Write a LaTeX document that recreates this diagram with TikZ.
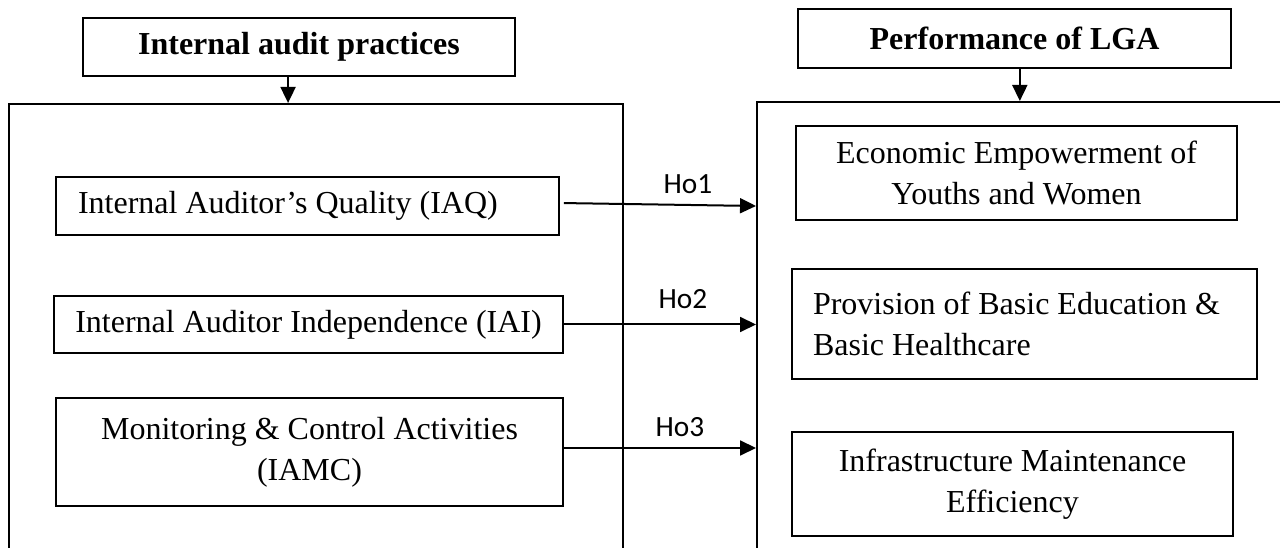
\documentclass[tikz,border=0pt]{standalone}
\usepackage{fontspec}
\setmainfont{Liberation Serif}
\newfontfamily\hofont{Carlito}
\usetikzlibrary{arrows.meta}

\begin{document}
\begin{tikzpicture}[x=0.375pt,y=-0.375pt]
    \tikzstyle{box} = [draw, line width=0.75pt, inner sep=0pt, align=center, font=\fontsize{12}{15.5}\selectfont];
    \tikzstyle{title} = [box, font=\fontsize{12}{15.5}\selectfont\bfseries];
    \tikzstyle{panel} = [draw, line width=0.75pt];
    \tikzstyle{holabel} = [font=\hofont\fontsize{11}{13}\selectfont, inner sep=0pt];
    \tikzstyle{marrow} = [line width=0.75pt, -{Triangle[length=6pt,width=5.6pt]}];

    \useasboundingbox (0,0) rectangle (1280,548);
    \clip (0,0) rectangle (1280,548);

    \node[title, minimum width=162pt, minimum height=21.75pt] (tIAP) at (299,47) {Internal audit practices};
    \node[title, minimum width=162.4pt, minimum height=22.1pt] (tPerf) at (1014.5,38.5) {Performance of LGA};

    \node[panel, minimum width=230.25pt, minimum height=193.5pt] (leftpanel) at (316,362) {};
    \node[panel, minimum width=211.1pt, minimum height=194.25pt] (rightpanel) at (1038.5,361) {};

    \node[box, minimum width=188.6pt, minimum height=21.75pt, text width=172.1pt, inner xsep=8.25pt, align=flush left] (IAQ) at (307.5,206) {Internal Auditor’s Quality (IAQ)};
    \node[box, minimum width=190.9pt, minimum height=21.4pt] (IAI) at (308.5,324.5) {Internal Auditor Independence (IAI)};
    \node[box, minimum width=190.1pt, minimum height=40.5pt] (IAMC) at (309.5,452) {Monitoring \& Control Activities\\(IAMC)};

    \node[box, minimum width=165.4pt, minimum height=35.25pt] (EEYW) at (1016.5,173) {Economic Empowerment of\\Youths and Women};
    \node[box, minimum width=174.4pt, minimum height=41.25pt, text width=158.6pt, inner xsep=7.9pt, align=flush left] (PBEH) at (1024.5,324) {Provision of Basic Education \&\\Basic Healthcare};
    \node[box, minimum width=165.4pt, minimum height=39pt] (IME) at (1012.5,484) {Infrastructure Maintenance\\Efficiency};

    \coordinate (a1) at ([xshift=-4.1pt]tIAP.south);
    \coordinate (a2) at ([xshift=2pt]tPerf.south);
    \draw[marrow] (a1) -- (a1 |- leftpanel.north);
    \draw[marrow] (a2) -- (a2 |- rightpanel.north);

    \foreach \n/\src/\dx/\ds/\de/\lx/\ly in {1/IAQ/1.5/1.1/0/688/184, 2/IAI/0/0/0/683/299, 3/IAMC/0/1.5/1.5/680/427} {
        \coordinate (e\n) at ([yshift=\de pt]\src.east);
        \draw[marrow] ([xshift=\dx pt, yshift=\ds pt]\src.east) -- (e\n -| rightpanel.west);
        \node[holabel] (ho\n) at (\lx,\ly) {Ho\n};
    }

\end{tikzpicture}
\end{document}
